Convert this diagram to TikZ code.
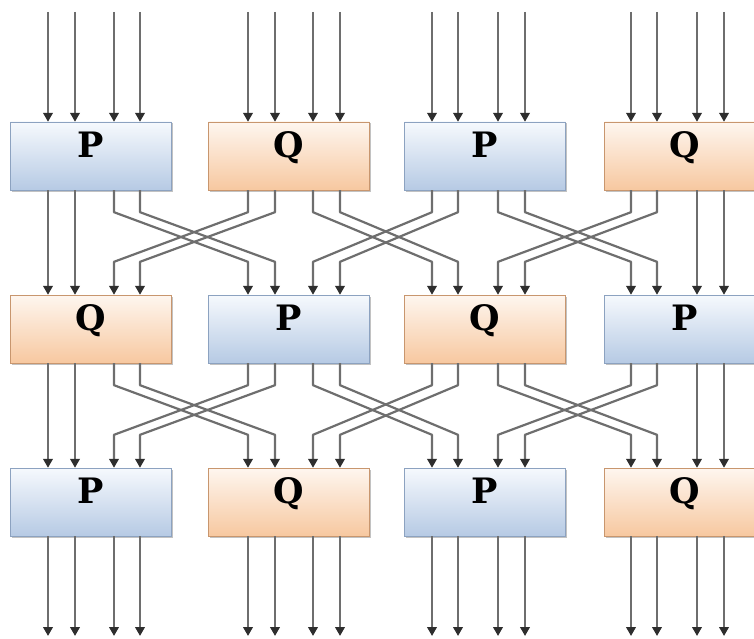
\documentclass[tikz,border=0pt]{standalone}
\usepackage{fontspec}
\newfontfamily\rotulofont{DejaVu Serif}
\usepackage{tikz}
\usetikzlibrary{arrows.meta,calc,shadows}
\definecolor{BoxBlueTop}{RGB}{246,249,253}
\definecolor{BoxBlueBot}{RGB}{182,202,228}
\definecolor{BoxBlueEdge}{RGB}{140,162,192}
\definecolor{BoxOrangeTop}{RGB}{254,246,239}
\definecolor{BoxOrangeBot}{RGB}{247,200,160}
\definecolor{BoxOrangeEdge}{RGB}{200,150,110}
\definecolor{WireGray}{RGB}{110,110,110}
\tikzset{
  caixa/.style={minimum width=161, minimum height=68, inner sep=0pt,
                text height=21pt, text depth=18pt,
                font=\fontsize{35}{40}\rotulofont\bfseries,
                drop shadow={shadow xshift=1.5pt, shadow yshift=-1.5pt, fill=black!40, opacity=.6}},
  caixaP/.style={caixa, draw=BoxBlueEdge, top color=BoxBlueTop, bottom color=BoxBlueBot},
  caixaQ/.style={caixa, draw=BoxOrangeEdge, top color=BoxOrangeTop, bottom color=BoxOrangeBot},
  fio/.style={WireGray, line width=2.2pt,
              -{Triangle[length=9pt, width=9.5pt, color=black!82]}},
}

\begin{document}
\begin{tikzpicture}[x=1pt, y=-1pt]
  \useasboundingbox (0,0) rectangle (754,639);

  % Colunas: centro da caixa e posicao dos fios
  \foreach \c/\bx/\la/\lb/\lc/\ld in {1/91/48/75/114/140, 2/289/248/275/313/340,
                                      3/485/432/458/498/525, 4/685/631/657/697/724}{
    \coordinate (x\c1) at (\la,0);
    \coordinate (x\c2) at (\lb,0);
    \coordinate (x\c3) at (\lc,0);
    \coordinate (x\c4) at (\ld,0);
    % tres linhas de caixas, P e Q alternados
    \pgfmathtruncatemacro\paridade{mod(\c,2)}
    \ifnum\paridade=1
      \node[caixaP] (b1\c) at (\bx,156) {P};
      \node[caixaQ] (b2\c) at (\bx,329) {Q};
      \node[caixaP] (b3\c) at (\bx,502) {P};
    \else
      \node[caixaQ] (b1\c) at (\bx,156) {Q};
      \node[caixaP] (b2\c) at (\bx,329) {P};
      \node[caixaQ] (b3\c) at (\bx,502) {Q};
    \fi
  }

  % Entradas e saidas
  \foreach \c in {1,...,4}\foreach \k in {1,...,4}{
    \coordinate (in\c\k) at ($(x\c\k)+(0,12)$);
    \coordinate (out\c\k) at ($(x\c\k)+(0,636)$);
    \draw[fio] (in\c\k) -- (b1\c.north -| in\c\k);
    \draw[fio] (b3\c.south -| out\c\k) -- (out\c\k);
  }

  % Embaralhamento entre linhas: fios 3,4 vao para a direita, 1,2 para a esquerda
  \foreach \r/\s in {1/2, 2/3}\foreach \c in {1,...,4}\foreach \k in {1,...,4}{
    \pgfmathtruncatemacro\d{\k<3 ? (\c==1 ? 1 : \c-1) : (\c==4 ? 4 : \c+1)}
    \pgfmathtruncatemacro\m{\k<3 ? (\c==1 ? \k : \k+2) : (\c==4 ? \k : \k-2)}
    \draw[fio, line join=round] (b\r\c.south -| x\c\k) -- ++(0,22)
      -- ($(b\s\d.north -| x\d\m)+(0,-33)$) -- (b\s\d.north -| x\d\m);
  }
\end{tikzpicture}
\end{document}
